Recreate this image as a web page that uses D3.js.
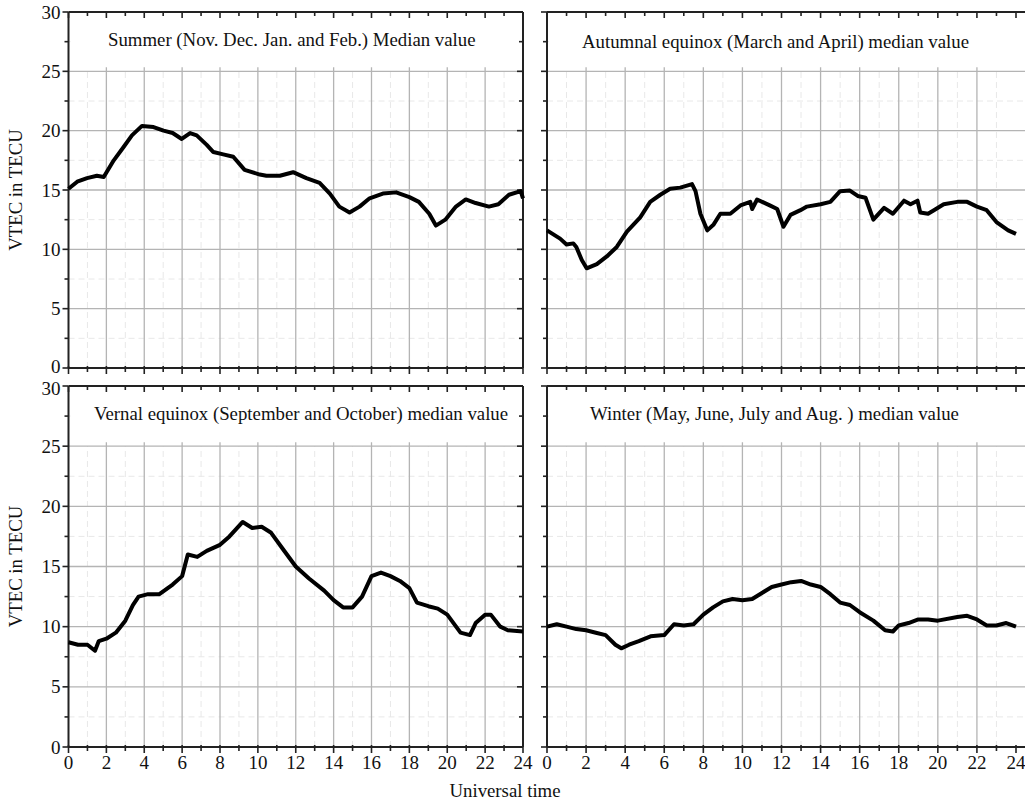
<!DOCTYPE html>
<html>
<head>
<meta charset="utf-8">
<title>VTEC median values</title>
<script src="https://cdn.jsdelivr.net/npm/d3@7"></script>
<style>
  body { margin: 0; background: #fff; }
  svg { display: block; font-family: "Liberation Serif", "Times New Roman", serif; }
  .grid-major { stroke: #b4b4b4; stroke-width: 1.3; }
  .grid-minor { stroke: #e8e8e8; stroke-width: 1; stroke-dasharray: 6 4; }
  .frame { stroke: #222; stroke-width: 2; fill: none; }
  .tick-label { font-size: 19px; fill: #111; }
  .title { font-size: 18.8px; fill: #111; }
  .curve { fill: none; stroke: #000; stroke-width: 4; stroke-linejoin: round; }
</style>
</head>
<body>
<div id="chart"></div>
<script>
var width = 1025, height = 807;

// ====================== data (hour of UT, VTEC in TECU)
var summerHours = [0, 0.46, 0.98, 1.5, 1.86, 2.39, 2.9, 3.35, 3.88, 4.49, 5.02, 5.5, 5.98, 6.42, 6.77, 7.3, 7.65, 8.17, 8.7, 9.3, 10.1, 10.45, 11.16, 11.86, 12.56, 13.26, 13.8, 14.3, 14.84, 15.37, 15.9, 16.6, 17.3, 18.0, 18.5, 19.05, 19.4, 19.9, 20.46, 20.98, 21.5, 22.2, 22.7, 23.26, 23.88, 24];
var summerVtec  = [15.1, 15.7, 16.0, 16.2, 16.1, 17.5, 18.6, 19.6, 20.4, 20.3, 20.0, 19.8, 19.3, 19.8, 19.6, 18.8, 18.2, 18.0, 17.8, 16.7, 16.3, 16.2, 16.2, 16.5, 16.0, 15.6, 14.7, 13.6, 13.1, 13.6, 14.3, 14.7, 14.8, 14.4, 14.0, 13.0, 12.0, 12.5, 13.6, 14.2, 13.9, 13.6, 13.8, 14.6, 14.9, 14.3];

var autumnHours = [0, 0.67, 1.0, 1.35, 1.5, 1.78, 2.03, 2.55, 3.06, 3.57, 4.09, 4.77, 5.28, 5.8, 6.3, 6.82, 7.42, 7.6, 7.85, 8.2, 8.53, 8.87, 9.38, 9.9, 10.4, 10.5, 10.75, 11.4, 11.78, 12.1, 12.46, 12.97, 13.3, 14.0, 14.5, 15.0, 15.5, 15.9, 16.3, 16.7, 17.25, 17.7, 18.27, 18.6, 18.96, 19.1, 19.5, 19.8, 20.3, 21.0, 21.5, 22.0, 22.5, 23.0, 23.6, 24];
var autumnVtec  = [11.6, 10.9, 10.4, 10.5, 10.2, 9.1, 8.4, 8.75, 9.4, 10.2, 11.5, 12.7, 14.0, 14.6, 15.1, 15.2, 15.5, 14.9, 13.0, 11.6, 12.1, 13.0, 13.0, 13.7, 14.0, 13.4, 14.2, 13.7, 13.4, 11.9, 12.9, 13.3, 13.6, 13.8, 14.0, 14.9, 14.95, 14.5, 14.35, 12.5, 13.5, 13.0, 14.1, 13.8, 14.1, 13.1, 13.0, 13.3, 13.8, 14.0, 14.0, 13.6, 13.3, 12.3, 11.6, 11.3];

var vernalHours = [0, 0.5, 1.0, 1.4, 1.6, 2.0, 2.5, 3.0, 3.4, 3.7, 4.2, 4.8, 5.5, 6.0, 6.3, 6.8, 7.3, 8.0, 8.5, 9.2, 9.7, 10.2, 10.7, 11.3, 12.0, 12.7, 13.5, 14.0, 14.5, 15.0, 15.5, 16.0, 16.5, 17.0, 17.5, 18.0, 18.4, 19.0, 19.5, 20.0, 20.7, 21.2, 21.5, 22.0, 22.3, 22.8, 23.2, 24];
var vernalVtec  = [8.7, 8.5, 8.5, 8.0, 8.8, 9.0, 9.5, 10.5, 11.8, 12.5, 12.7, 12.7, 13.5, 14.2, 16.0, 15.8, 16.3, 16.8, 17.5, 18.7, 18.2, 18.3, 17.8, 16.5, 15.0, 14.0, 13.0, 12.2, 11.6, 11.6, 12.5, 14.2, 14.5, 14.2, 13.8, 13.2, 12.0, 11.7, 11.5, 11.0, 9.5, 9.3, 10.3, 11.0, 11.0, 10.0, 9.7, 9.6];

var winterHours = [0, 0.5, 1.0, 1.5, 2.0, 2.5, 3.0, 3.5, 3.8, 4.2, 4.7, 5.3, 6.0, 6.5, 7.0, 7.5, 8.0, 8.5, 9.0, 9.5, 10.0, 10.5, 11.0, 11.5, 12.0, 12.5, 13.0, 13.5, 14.0, 14.5, 15.0, 15.5, 16.0, 16.7, 17.3, 17.7, 18.0, 18.5, 19.0, 19.5, 20.0, 21.0, 21.5, 22.0, 22.5, 23.0, 23.5, 24];
var winterVtec  = [10.0, 10.2, 10.0, 9.8, 9.7, 9.5, 9.3, 8.5, 8.2, 8.5, 8.8, 9.2, 9.3, 10.2, 10.1, 10.2, 11.0, 11.6, 12.1, 12.3, 12.2, 12.3, 12.8, 13.3, 13.5, 13.7, 13.8, 13.5, 13.3, 12.7, 12.0, 11.8, 11.2, 10.5, 9.7, 9.6, 10.1, 10.3, 10.6, 10.6, 10.5, 10.8, 10.9, 10.6, 10.1, 10.1, 10.3, 10.0];

var titles = [
    'Summer (Nov. Dec. Jan. and Feb.) Median value',
    'Autumnal equinox (March and April) median value',
    'Vernal equinox (September and October) median value',
    'Winter (May, June, July and Aug. ) median value'
];
var xTicks = d3.range(0, 25, 2);
var yTicks = [0, 5, 10, 15, 20, 25, 30];

// ====================== layout
var cols = [
    { x0: 68.5, x1: 523, right: 523, left: true },
    { x0: 547, x1: 1016, right: 1025, left: false }
];
var rows = [
    { y0: 368, y1: 12, bottom: false },
    { y0: 747, y1: 386, bottom: true }
];
var panels = [
    { col: 0, row: 0, hours: summerHours, vtec: summerVtec, title: titles[0], tx: 108, ty: 46 },
    { col: 1, row: 0, hours: autumnHours, vtec: autumnVtec, title: titles[1], tx: 582, ty: 48 },
    { col: 0, row: 1, hours: vernalHours, vtec: vernalVtec, title: titles[2], tx: 94, ty: 420 },
    { col: 1, row: 1, hours: winterHours, vtec: winterVtec, title: titles[3], tx: 590, ty: 420 }
];

var svg = d3.select('#chart').append('svg')
        .attr('width', width)
        .attr('height', height);

svg.append('rect').attr('width', width).attr('height', height).attr('fill', '#fff');

// ====================== panels
panels.forEach(function (p) {
    var c = cols[p.col], r = rows[p.row];
    var x = d3.scaleLinear().domain([0, 24]).range([c.x0, c.x1]);
    var y = d3.scaleLinear().domain([0, 30]).range([r.y0, r.y1]);
    var g = svg.append('g');

    // minor grid
    d3.range(1, 24, 2).forEach(function (h) {
        g.append('line').attr('class', 'grid-minor')
                .attr('x1', x(h)).attr('x2', x(h))
                .attr('y1', y(0)).attr('y2', y(25));
    });
    d3.range(2.5, 30, 5).forEach(function (v) {
        g.append('line').attr('class', 'grid-minor')
                .attr('x1', c.x0).attr('x2', c.right)
                .attr('y1', y(v)).attr('y2', y(v));
    });

    // major grid (no lines in the title band above 25)
    xTicks.slice(1, -1).forEach(function (h) {
        g.append('line').attr('class', 'grid-major')
                .attr('x1', x(h)).attr('x2', x(h))
                .attr('y1', y(0)).attr('y2', y(25) - 4);
    });
    yTicks.slice(1, -1).forEach(function (v) {
        g.append('line').attr('class', 'grid-major')
                .attr('x1', c.x0).attr('x2', c.right)
                .attr('y1', y(v)).attr('y2', y(v));
    });

    // white band behind title
    g.append('rect')
            .attr('x', c.x0 + 2).attr('y', y(30) + 2)
            .attr('width', c.right - c.x0 - 4).attr('height', y(25) - y(30) - 9)
            .attr('fill', '#fff');

    // frame
    g.append('line').attr('class', 'frame')
            .attr('x1', c.x0).attr('x2', c.right).attr('y1', y(0)).attr('y2', y(0));
    g.append('line').attr('class', 'frame')
            .attr('x1', c.x0).attr('x2', c.right).attr('y1', y(30)).attr('y2', y(30));
    g.append('line').attr('class', 'frame')
            .attr('x1', c.x0).attr('x2', c.x0).attr('y1', y(0)).attr('y2', y(30));
    if (c.right === c.x1) {
        g.append('line').attr('class', 'frame')
                .attr('x1', c.x1).attr('x2', c.x1).attr('y1', y(0)).attr('y2', y(30));
    }

    // x ticks (bottom and top)
    d3.range(0, 25, 1).forEach(function (h) {
        var len = h % 2 === 0 ? 6 : 4;
        g.append('line').attr('stroke', '#222').attr('stroke-width', 1.6)
                .attr('x1', x(h)).attr('x2', x(h))
                .attr('y1', y(0) - 2).attr('y2', y(0) + len);
        g.append('line').attr('stroke', '#222').attr('stroke-width', 1.6)
                .attr('x1', x(h)).attr('x2', x(h))
                .attr('y1', y(30)).attr('y2', y(30) + len);
    });
    // y ticks (left, outward; right edge, inward)
    d3.range(0, 31, 2.5).forEach(function (v) {
        var len = v % 5 === 0 ? 6 : 4;
        g.append('line').attr('stroke', '#222').attr('stroke-width', 1.6)
                .attr('x1', c.x0 - len).attr('x2', c.x0)
                .attr('y1', y(v)).attr('y2', y(v));
        if (c.right === c.x1) {
            g.append('line').attr('stroke', '#222').attr('stroke-width', 1.6)
                    .attr('x1', c.x1 - len).attr('x2', c.x1)
                    .attr('y1', y(v)).attr('y2', y(v));
        }
    });

    // tick labels
    if (c.left) {
        g.selectAll('.ylab').data(yTicks).enter().append('text')
                .attr('class', 'tick-label')
                .attr('x', c.x0 - 8)
                .attr('y', function (v) {
                    // keep top-panel "0" and bottom-panel "30" apart
                    if (!r.bottom && v === 0) return y(v) - 2;
                    if (r.bottom && v === 30) return y(v) + 2;
                    return y(v);
                })
                .attr('dy', '0.35em').attr('text-anchor', 'end')
                .text(function (v) { return v; });
    }
    if (r.bottom) {
        g.selectAll('.xlab').data(xTicks).enter().append('text')
                .attr('class', 'tick-label')
                .attr('x', function (h) { return x(h); }).attr('y', y(0) + 22)
                .attr('text-anchor', 'middle')
                .text(function (h) { return h; });
    }

    // title
    g.append('text').attr('class', 'title')
            .attr('x', p.tx).attr('y', p.ty)
            .text(p.title);

    // curve
    var line = d3.line()
            .x(function (d) { return x(d[0]); })
            .y(function (d) { return y(d[1]); })
            .curve(d3.curveLinear);
    g.append('path').attr('class', 'curve')
            .attr('d', line(d3.zip(p.hours, p.vtec)));
});

// ====================== axis titles
rows.forEach(function (r) {
    svg.append('text').attr('class', 'title')
            .attr('transform', 'translate(22,' + ((r.y0 + r.y1) / 2) + ') rotate(-90)')
            .attr('text-anchor', 'middle')
            .text('VTEC in TECU');
});
svg.append('text').attr('class', 'title')
        .attr('x', 505).attr('y', 797)
        .attr('text-anchor', 'middle')
        .text('Universal time');
</script>
</body>
</html>
